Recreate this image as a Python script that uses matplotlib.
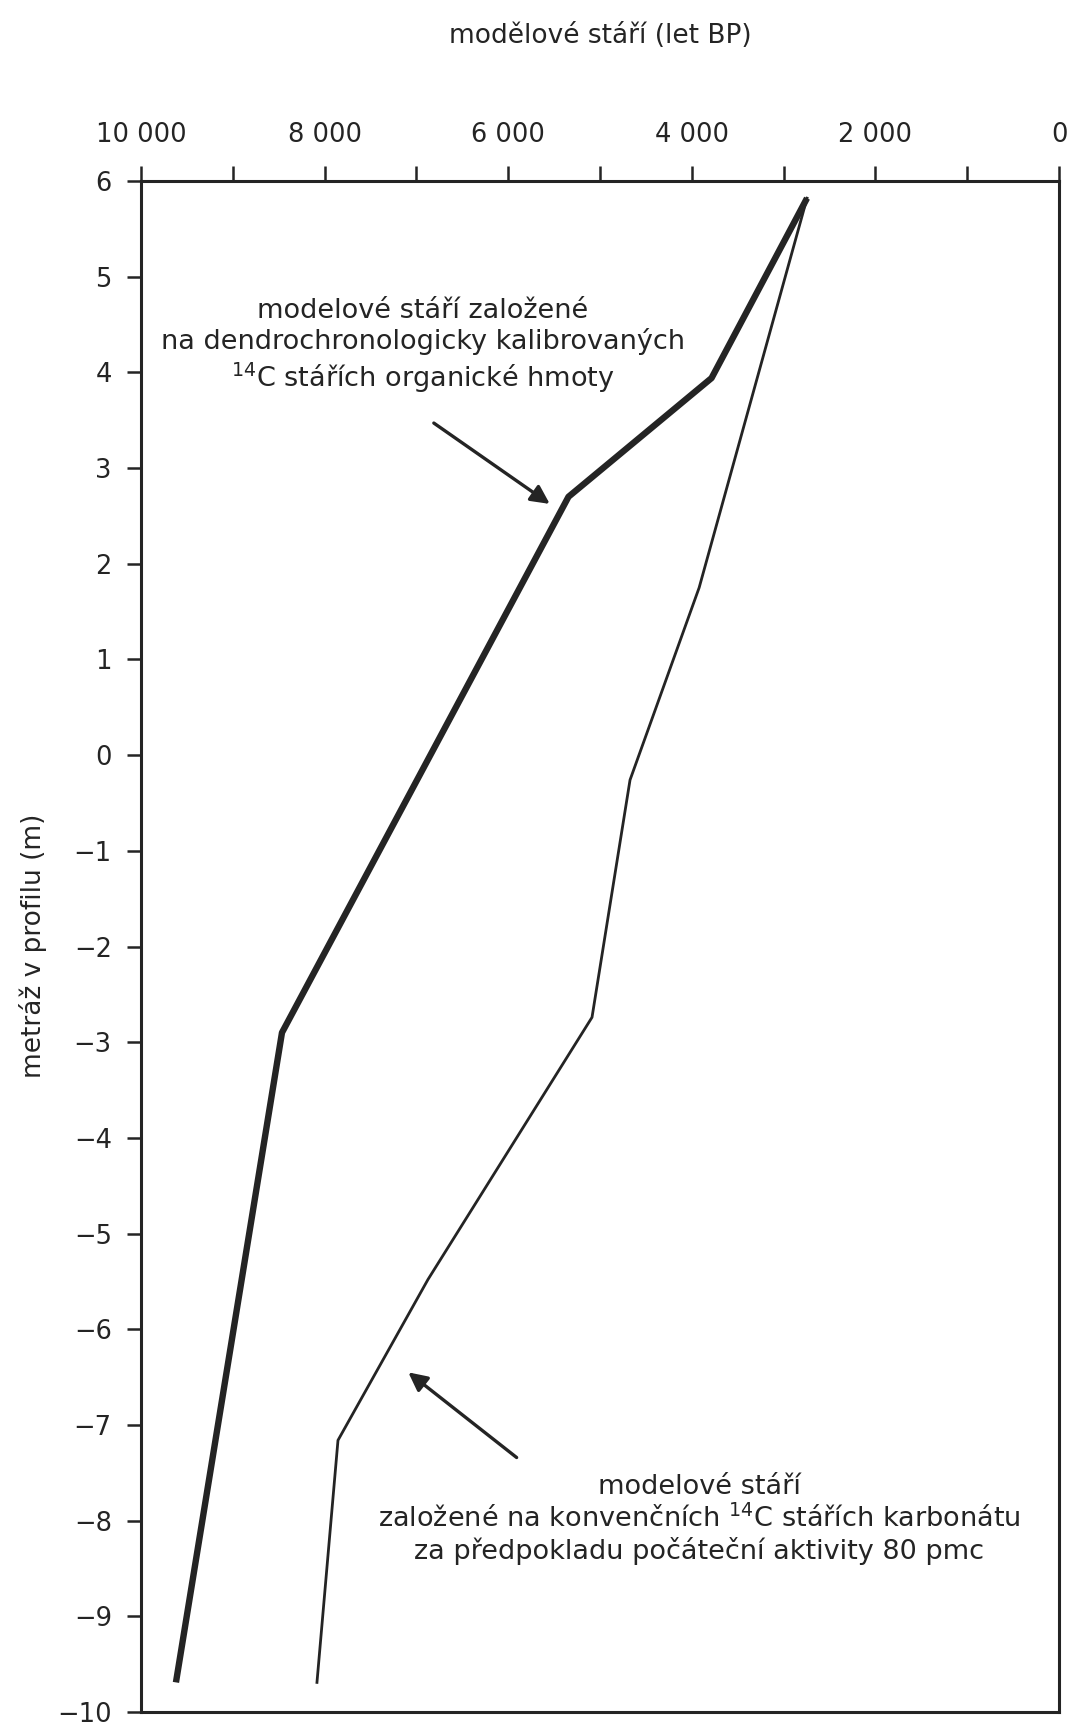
import matplotlib.pyplot as plt
from matplotlib.ticker import FixedLocator, FuncFormatter

plt.rcParams['font.family'] = ['DejaVu Sans']
plt.rcParams['mathtext.fontset'] = 'dejavusans'

# modelove stari zalozene na dendrochronologicky kalibrovanych 14C starich
dendro_age = [2745, 3785, 5343, 8464, 9619]
dendro_depth = [5.82, 3.94, 2.70, -2.90, -9.69]

# modelove stari zalozene na konvencnich 14C starich karbonatu
conv_age = [2745, 3920, 4673, 5087, 6874, 7854, 8083]
conv_depth = [5.82, 1.75, -0.26, -2.74, -5.48, -7.16, -9.69]

x_major = [10000, 8000, 6000, 4000, 2000, 0]
x_minor = [9000, 7000, 5000, 3000, 1000]
y_ticks = list(range(-10, 7))

ink = '#242424'

fig = plt.figure(figsize=(10.72, 17.25), dpi=100)
ax = fig.add_axes([0.1315, 0.0075, 0.8564, 0.8876])

ax.plot(dendro_age, dendro_depth, color=ink, lw=4.6, solid_capstyle='butt')
ax.plot(conv_age, conv_depth, color=ink, lw=2.0)

ax.set_xlim(10000, 0)
ax.set_ylim(-10, 6)

for s in ax.spines.values():
    s.set_linewidth(2.2)
    s.set_color(ink)

ax.xaxis.tick_top()
ax.xaxis.set_major_locator(FixedLocator(x_major))
ax.xaxis.set_minor_locator(FixedLocator(x_minor))
ax.xaxis.set_major_formatter(FuncFormatter(lambda v, p: f"{int(v):,}".replace(',', ' ')))
ax.tick_params(axis='x', which='both', direction='out', length=11, width=1.8,
               color=ink, labelsize=18.5, pad=13, labelcolor=ink)
ax.set_yticks(y_ticks)
ax.tick_params(axis='y', direction='out', length=10, width=1.8, color=ink,
               labelsize=18.5, pad=11, labelcolor=ink)

# popisky
ax.text(6928, 4.27,
        "modelové stáří založené\nna dendrochronologicky kalibrovaných\n$^{14}$C stářích organické hmoty",
        ha='center', va='center', fontsize=19.5, color=ink, linespacing=1.2)
ax.annotate('', xy=(5547, 2.625), xytext=(6810, 3.47),
            arrowprops=dict(arrowstyle='-|>', lw=2.4, color=ink, mutation_scale=28,
                            shrinkA=0, shrinkB=0))

ax.text(3921, -7.99,
        "modelové stáří\nzaložené na konvenčních $^{14}$C stářích karbonátu\nza předpokladu počáteční aktivity 80 pmc",
        ha='center', va='center', fontsize=19.5, color=ink, linespacing=1.2)
ax.annotate('', xy=(7088, -6.45), xytext=(5908, -7.34),
            arrowprops=dict(arrowstyle='-|>', lw=2.4, color=ink, mutation_scale=28,
                            shrinkA=0, shrinkB=0))

fig.text(0.56, 0.979, "modělové stáří (let BP)", ha='center', va='center',
         fontsize=19, color=ink)
fig.text(0.031, 0.4516, "metráž v profilu (m)", rotation=90, ha='center',
         va='center', fontsize=19, color=ink)

fig.savefig('out.png', dpi=100)
